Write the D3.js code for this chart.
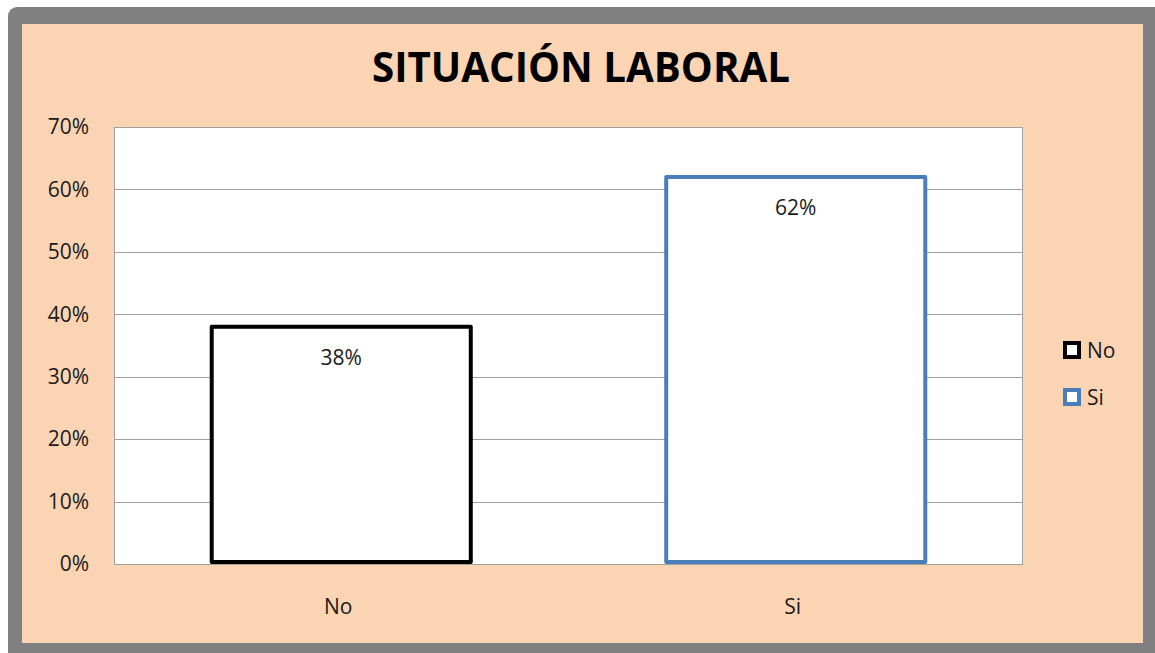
<!DOCTYPE html>
<html>
<head>
<meta charset="utf-8">
<script src="https://cdn.jsdelivr.net/npm/d3@7"></script>
<style>
  body { margin: 0; background: #fff; }
  text { font-family: "Open Sans", sans-serif; fill: #1a1a1a; }
</style>
</head>
<body>
<script>
var categories = ["No", "Si"];
var values = [0.38, 0.62];
var yTicks = [0, 0.1, 0.2, 0.3, 0.4, 0.5, 0.6, 0.7];
var seriesColors = ["#000000", "#4a7ebb"];
var titleText = "SITUACIÓN LABORAL";

var width = 1155,
    height = 653;

var svg = d3.select("body")
        .append("svg")
        .attr("width", width)
        .attr("height", height);

// frame
svg.append("rect")
        .attr("x", 8).attr("y", 7)
        .attr("width", width - 8 + 10).attr("height", height - 7 + 10)
        .attr("rx", 9)
        .attr("fill", "#808080");
svg.append("rect")
        .attr("x", 22).attr("y", 24)
        .attr("width", 1121).attr("height", 619)
        .attr("fill", "#fbd4b4");

svg.append("text")
        .attr("x", 581).attr("y", 82)
        .attr("text-anchor", "middle")
        .attr("textLength", 418)
        .attr("lengthAdjust", "spacingAndGlyphs")
        .style("font-size", "42px")
        .style("font-weight", "bold")
        .style("fill", "#000")
        .text(titleText);

var margin = {top: 127, left: 114},
    plotW = 1023 - 114,
    plotH = 564 - 127;

var g = svg.append("g")
        .attr("transform", "translate(" + margin.left + "," + margin.top + ")");

var x = d3.scaleBand().domain(categories).range([0, plotW])
        .paddingInner(0.43).paddingOuter(0.215);
var y = d3.scaleLinear().domain([0, 0.7]).range([plotH, 0]);

g.append("rect")
        .attr("width", plotW).attr("height", plotH)
        .attr("fill", "#fff");

g.selectAll(".grid")
        .data(yTicks)
        .enter().append("line")
        .attr("x1", 0).attr("x2", plotW)
        .attr("y1", function(d){return Math.round(y(d)) + 0.5;})
        .attr("y2", function(d){return Math.round(y(d)) + 0.5;})
        .attr("stroke", "#a0a0a0").attr("stroke-width", 1);

g.append("rect")
        .attr("x", 0.5).attr("y", 0.5)
        .attr("width", plotW - 1).attr("height", plotH)
        .attr("fill", "none")
        .attr("stroke", "#a0a0a0");

var yAxis = d3.axisLeft(y).tickValues(yTicks).tickFormat(d3.format(".0%")).tickSize(0).tickPadding(25);
g.append("g").call(yAxis)
        .call(function(s){ s.select(".domain").remove(); })
        .selectAll("text")
        .style("font-size", "21px")
        .attr("fill", "#222");

var xAxis = d3.axisBottom(x).tickSize(0).tickPadding(35);
g.append("g")
        .attr("transform", "translate(0," + plotH + ")")
        .call(xAxis)
        .call(function(s){ s.select(".domain").remove(); })
        .selectAll("text")
        .attr("dx", "-3")
        .style("font-size", "21px")
        .attr("fill", "#222");

var bars = g.selectAll(".bar")
        .data(categories)
        .enter().append("g")
        .classed("bar", true);

bars.append("rect")
        .attr("x", function(d){return x(d);})
        .attr("y", function(d, i){return y(values[i]);})
        .attr("width", x.bandwidth())
        .attr("height", function(d, i){return plotH - y(values[i]) - 2;})
        .attr("fill", "#fff")
        .attr("stroke", function(d, i){return seriesColors[i];})
        .attr("stroke-width", 4)
        .attr("stroke-linejoin", "round");

bars.append("text")
        .attr("x", function(d){return x(d) + x.bandwidth() / 2;})
        .attr("y", function(d, i){return y(values[i]) + 38;})
        .attr("text-anchor", "middle")
        .style("font-size", "21px")
        .attr("fill", "#222")
        .text(function(d, i){return d3.format(".0%")(values[i]);});

// legend
var legend = svg.selectAll(".legend")
        .data(categories)
        .enter().append("g")
        .classed("legend", true)
        .attr("transform", function(d, i){return "translate(1065," + (343 + i * 47) + ")";});

legend.append("rect")
        .attr("width", 14).attr("height", 14)
        .attr("fill", "#fff")
        .attr("stroke", function(d, i){return seriesColors[i];})
        .attr("stroke-width", 4);

legend.append("text")
        .attr("x", 22).attr("y", 15)
        .style("font-size", "21px")
        .attr("fill", "#222")
        .text(function(d){return d;});
</script>
</body>
</html>
